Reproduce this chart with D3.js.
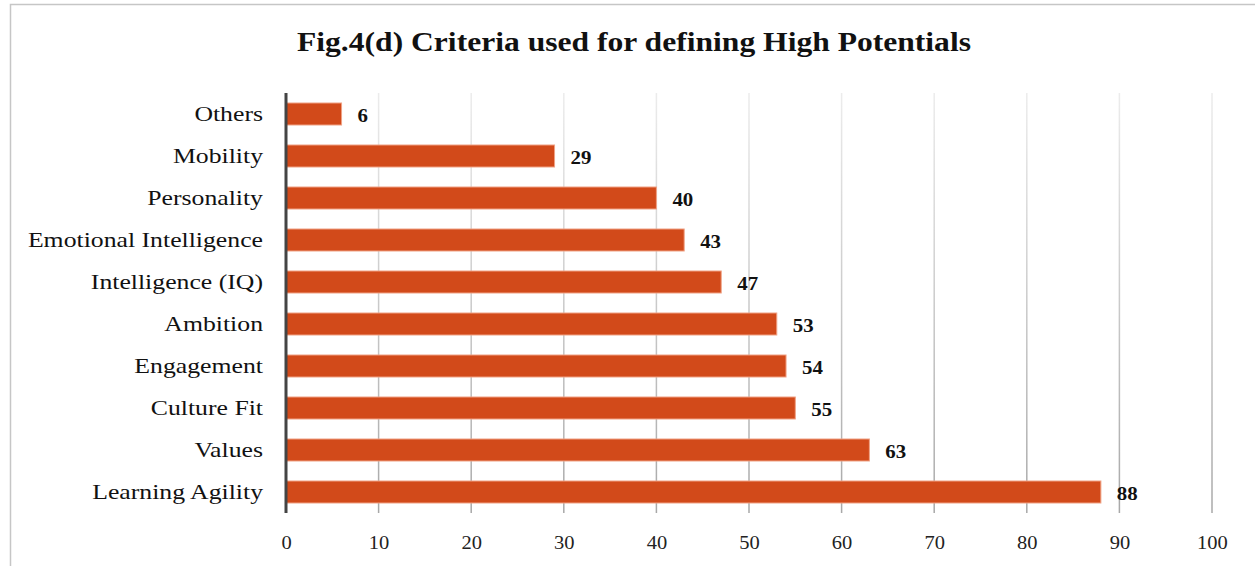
<!DOCTYPE html>
<html>
<head>
<meta charset="utf-8">
<script src="https://cdn.jsdelivr.net/npm/d3@7/dist/d3.min.js"></script>
<style>
  html, body { margin: 0; padding: 0; background: #fff; }
  svg { display: block; }
  text { font-family: "Liberation Serif", "DejaVu Serif", serif; fill: #111; }
</style>
</head>
<body>
<svg id="chart" width="1255" height="566"></svg>
<script>
// Criteria, listed top to bottom, and share of respondents (%)
const categories = ["Others", "Mobility ", "Personality", "Emotional Intelligence",
  "Intelligence (IQ)", "Ambition", "Engagement", "Culture Fit", "Values", "Learning Agility"];
const values = [6, 29, 40, 43, 47, 53, 54, 55, 63, 88];
const tickValues = [0, 10, 20, 30, 40, 50, 60, 70, 80, 90, 100];
const title = "Fig.4(d) Criteria used for defining High Potentials";

const svg = d3.select("#chart");
const W = 1255, H = 566;
const plot = { left: 286, right: 1212, top: 93, bottom: 513 };

// Stretch serif glyphs horizontally about their anchor x, for a wider book-face look
function widen(sel, factor) {
  sel.each(function () {
    const ax = +(this.getAttribute("x") || 0);
    d3.select(this).attr("transform",
      `translate(${ax},0) scale(${factor},1) translate(${-ax},0)`);
  });
}

// Outer frame (open past the right and bottom edges of the view)
svg.append("rect")
  .attr("x", 10.5).attr("y", 4.5)
  .attr("width", W + 20).attr("height", H + 20)
  .attr("fill", "#fff").attr("stroke", "#c6c6c6").attr("stroke-width", 1.5);

// Title
svg.append("text")
  .attr("x", 634).attr("y", 51)
  .attr("text-anchor", "middle")
  .style("font-size", "27px").style("font-weight", "bold")
  .text(title)
  .call(widen, 1.17);

const x = d3.scaleLinear().domain([0, 100]).range([plot.left, plot.right]);
const y = d3.scaleBand().domain(categories).range([plot.top, plot.bottom]).paddingInner(0.476).paddingOuter(0.238);

// Gridlines fade from light at the top to mid-grey at the bottom
const defs = svg.append("defs");
const grad = defs.append("linearGradient")
  .attr("id", "gridFade").attr("gradientUnits", "userSpaceOnUse")
  .attr("x1", 0).attr("y1", plot.top).attr("x2", 0).attr("y2", plot.bottom);
grad.append("stop").attr("offset", "0%").attr("stop-color", "#ececec");
grad.append("stop").attr("offset", "100%").attr("stop-color", "#a8a8a8");

svg.append("g").selectAll("rect")
  .data(tickValues.filter(d => d > 0))
  .join("rect")
  .attr("x", d => x(d) - 0.75).attr("y", plot.top)
  .attr("width", 1.5).attr("height", plot.bottom - plot.top)
  .attr("fill", "url(#gridFade)");

// Bars
svg.append("g").selectAll("rect")
  .data(categories)
  .join("rect")
  .attr("x", x(0))
  .attr("y", d => y(d))
  .attr("width", (d, i) => x(values[i]) - x(0))
  .attr("height", y.bandwidth())
  .attr("fill", "#d24a1a")
  .attr("stroke", "#f0a285").attr("stroke-width", 1);

// Value labels
svg.append("g").selectAll("text")
  .data(categories)
  .join("text")
  .attr("x", (d, i) => x(values[i]) + 16)
  .attr("y", d => y(d) + y.bandwidth() / 2 + 8)
  .style("font-size", "19px").style("font-weight", "bold")
  .text((d, i) => values[i])
  .call(widen, 1.1);

// Category axis
const yAxis = svg.append("g")
  .attr("transform", `translate(${plot.left},0)`)
  .call(d3.axisLeft(y).tickSize(0).tickPadding(23));
yAxis.select(".domain").remove();
yAxis.selectAll("text").style("font-size", "22px").attr("dy", "0.3em").call(widen, 1.17);

svg.append("line")
  .attr("x1", plot.left).attr("x2", plot.left)
  .attr("y1", plot.top).attr("y2", plot.bottom)
  .attr("stroke", "#444").attr("stroke-width", 3);

// Value axis
const xAxis = svg.append("g")
  .attr("transform", `translate(0,${plot.bottom})`)
  .call(d3.axisBottom(x).tickValues(tickValues).tickSize(0).tickPadding(23));
xAxis.select(".domain").remove();
xAxis.selectAll("text").style("font-size", "19px").attr("dy", "0.71em").style("fill", "#222").call(widen, 1.08);
</script>
</body>
</html>
